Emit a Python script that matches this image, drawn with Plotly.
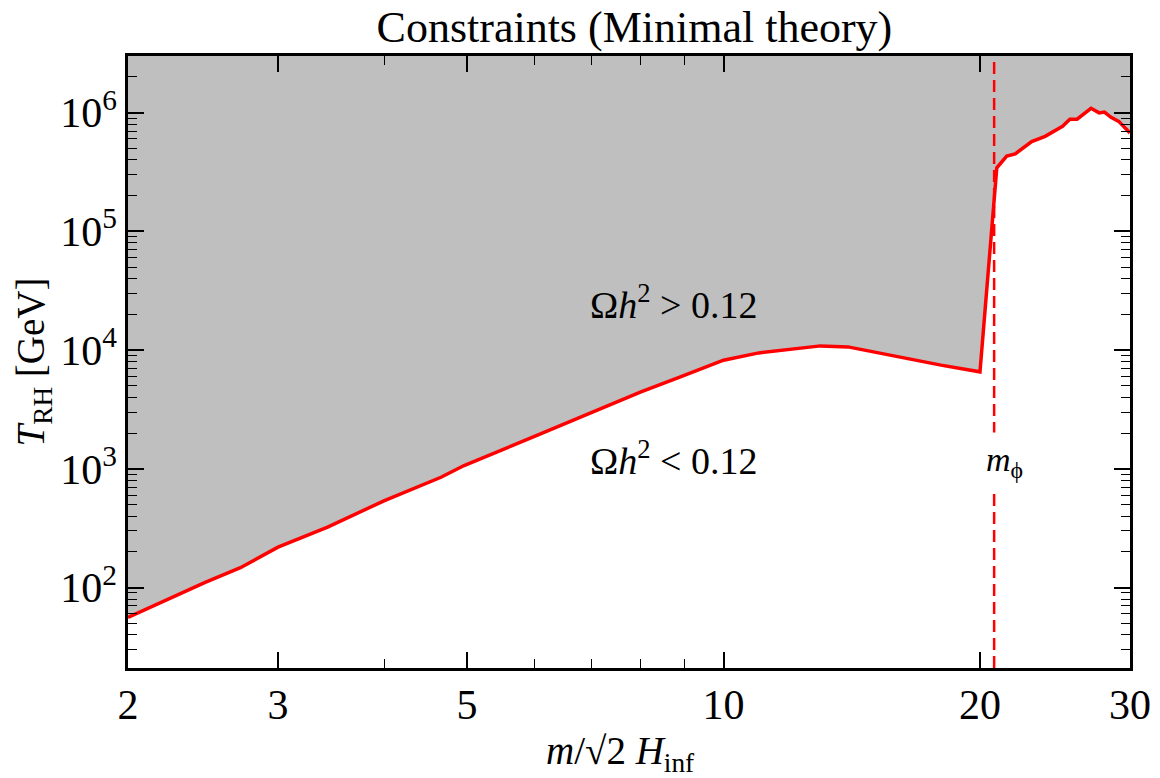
import plotly.graph_objects as go
import math

# Data
x_vals = [2.0, 2.46, 2.71, 3.0, 3.43, 4.0, 4.66, 4.96, 6.0, 6.8, 8.0, 8.9, 10.0,
          11.0, 13.0, 14.0, 16.0, 18.0, 20.0, 20.93, 21.5, 22.0, 23.0, 23.85,
          25.0, 25.5, 26.0, 27.0, 27.6, 28.0, 28.5, 29.1, 30.0]
t_rh = [56, 110, 147, 219, 323, 540, 849, 1066, 1875, 2730, 4440, 5940, 8220,
        9470, 10850, 10640, 8770, 7470, 6560, 343000, 430000, 450000, 570000,
        632000, 767000, 880000, 880000, 1087000, 995000, 1010000, 914000,
        845000, 675000]
m_phi = 20.78
x_range = [2, 30]
y_range = [21, 3.0e6]
top_fill = 1e8
x_tick_vals = [2, 3, 5, 10, 20, 30]
x_minor_vals = [4, 6, 7, 8, 9]
y_tick_vals = [1e2, 1e3, 1e4, 1e5, 1e6]
y_tick_text = ["10<sup>2</sup>", "10<sup>3</sup>", "10<sup>4</sup>", "10<sup>5</sup>", "10<sup>6</sup>"]
labels = {"above": "Ω<i>h</i><sup>2</sup> > 0.12", "below": "Ω<i>h</i><sup>2</sup> < 0.12"}
label_pos = {"above": (8.73, 25300), "below": (8.73, 1240)}
mphi_label_y = 1150
x_title = "<i>m</i>/√2 <i>H</i><sub>inf</sub>"
y_title = "<i>T</i><sub>RH</sub> [GeV]"
chart_title = "Constraints (Minimal theory)"

FONT = "Liberation Serif"

fig = go.Figure()
fig.add_trace(go.Scatter(x=[x_range[0], x_range[1]], y=[top_fill, top_fill],
                         mode="lines", line=dict(width=0), hoverinfo="skip",
                         showlegend=False))
fig.add_trace(go.Scatter(x=x_vals, y=t_rh, mode="lines", fill="tonexty",
                         fillcolor="#bfbfbf", line=dict(color="#ff0000", width=3.5),
                         showlegend=False))

fig.add_shape(type="line", xref="x", yref="paper", x0=m_phi, x1=m_phi, y0=0, y1=1,
              line=dict(color="#ff0000", width=2.5, dash="12px,6px"))

for k in ("above", "below"):
    fig.add_annotation(x=math.log10(label_pos[k][0]), y=math.log10(label_pos[k][1]),
                       text=labels[k], showarrow=False,
                       font=dict(family=FONT, size=38, color="black"))

fig.add_annotation(x=math.log10(m_phi) + 0.012, y=math.log10(mphi_label_y),
                   text="<i>m</i><sub>ϕ</sub>", showarrow=False, bgcolor="white",
                   borderpad=8,
                   font=dict(family=FONT, size=34, color="black"))

# x-axis title as annotation for precise placement
fig.add_annotation(xref="paper", yref="paper", x=0.492, y=0, yanchor="top",
                   yshift=-59, text=x_title, showarrow=False,
                   font=dict(family=FONT, size=39, color="black"))

axis_common = dict(showline=True, linecolor="black", linewidth=2.5, mirror="allticks",
                   ticks="inside", tickcolor="black", tickwidth=1.5, ticklen=16,
                   showgrid=False, zeroline=False,
                   tickfont=dict(family=FONT, size=42, color="black"))

fig.update_xaxes(type="log", range=[math.log10(x_range[0]), math.log10(x_range[1])],
                 tickmode="array", tickvals=x_tick_vals,
                 ticktext=[str(v) for v in x_tick_vals],
                 ticklabelstandoff=-2,
                 minor=dict(tickmode="array", tickvals=x_minor_vals, ticks="inside",
                            ticklen=9, tickwidth=1.2, tickcolor="black"),
                 **axis_common)
fig.update_yaxes(type="log", range=[math.log10(y_range[0]), math.log10(y_range[1])],
                 tickmode="array", tickvals=y_tick_vals, ticktext=y_tick_text,
                 minor=dict(ticks="inside", ticklen=9, tickwidth=1.2, tickcolor="black",
                            dtick="D1"),
                 title=dict(text=y_title,
                            font=dict(family=FONT, size=39, color="black"), standoff=4),
                 **axis_common)

fig.update_layout(
    width=1160, height=778,
    margin=dict(l=120, r=38, t=48, b=118),
    plot_bgcolor="white", paper_bgcolor="white",
    title=dict(text=chart_title, x=0.54, xanchor="center",
               y=0.976, yanchor="middle",
               font=dict(family=FONT, size=44, color="black")),
)

fig.write_html("out.html")
